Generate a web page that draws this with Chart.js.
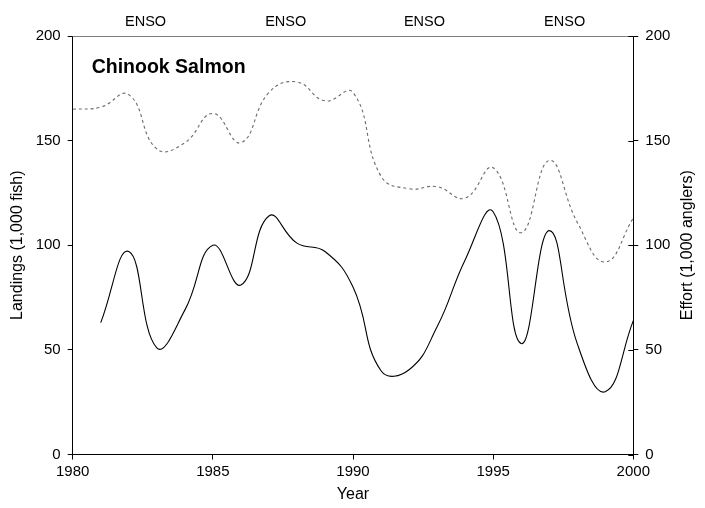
<!DOCTYPE html>
<html>
<head>
<meta charset="utf-8">
<script src="https://cdn.jsdelivr.net/npm/chart.js@4.4.1/dist/chart.umd.min.js"></script>
<style>
  html, body { margin: 0; padding: 0; background: #fff; }
  #wrap { width: 705px; height: 508px; }
</style>
</head>
<body>
<div id="wrap"><canvas id="c" width="705" height="508"></canvas></div>
<script>
const years     = [1980,1981,1982,1983,1984,1985,1986,1987,1988,1989,1990,1991,1992,1993,1994,1995,1996,1997,1998,1999,2000];
const landings  = [null,  63,  97,  51,  69, 100,  81, 114, 101,  97,  80,  40,40.5, 61,  93, 116,  53, 107,  53,  30,  64];
const effort    = [165, 166, 172, 146, 149, 163, 149, 173, 178, 169, 173, 133, 127, 128,122.5,137, 106,140.5,111,  92, 113];
const ensoYears = [1982.6, 1987.6, 1992.55, 1997.55];
const ensoLabel = 'ENSO';
const xTicks    = [1980, 1985, 1990, 1995, 2000];
const yTicks    = [0, 50, 100, 150, 200];
const panelTitle = 'Chinook Salmon';
const rightTitle = 'Effort (1,000 anglers)';

const FONT = "'Liberation Sans', Arial, sans-serif";

const decor = {
  id: 'decor',
  afterDraw(chart) {
    const ctx = chart.ctx;
    const a = chart.chartArea;
    const xs = chart.scales.x;
    const y2 = chart.scales.y2;
    ctx.save();
    // top border line
    ctx.strokeStyle = '#808080';
    ctx.lineWidth = 1;
    ctx.beginPath();
    ctx.moveTo(a.left, a.top + 0.5);
    ctx.lineTo(a.right, a.top + 0.5);
    ctx.stroke();
    // inner ticks of right axis
    ctx.strokeStyle = '#000';
    ctx.beginPath();
    yTicks.forEach(v => {
      const py = Math.round(y2.getPixelForValue(v)) + 0.5;
      ctx.moveTo(a.right - 5, py);
      ctx.lineTo(a.right, py);
    });
    ctx.stroke();
    // ENSO labels
    ctx.fillStyle = '#000';
    ctx.font = '14.5px ' + FONT;
    ctx.textAlign = 'center';
    ctx.textBaseline = 'middle';
    ensoYears.forEach(yr => {
      ctx.fillText(ensoLabel, xs.getPixelForValue(yr), a.top - 14);
    });
    // panel title
    ctx.font = 'bold 19.5px ' + FONT;
    ctx.textAlign = 'left';
    ctx.fillText(panelTitle, a.left + 19, a.top + 32);
    // right axis title, reading upward
    ctx.font = '16px ' + FONT;
    ctx.textAlign = 'center';
    ctx.translate(688, (a.top + a.bottom) / 2);
    ctx.rotate(-Math.PI / 2);
    ctx.fillText(rightTitle, 0, 0);
    ctx.restore();
  }
};

new Chart(document.getElementById('c'), {
  type: 'line',
  data: {
    datasets: [
      {
        label: 'Landings',
        data: years.map((yr, i) => ({x: yr, y: landings[i]})).filter(p => p.y !== null),
        borderColor: '#000',
        borderWidth: 1.1,
        pointRadius: 0,
        tension: 0.45,
        fill: false,
        yAxisID: 'y'
      },
      {
        label: 'Effort',
        data: years.map((yr, i) => ({x: yr, y: effort[i]})),
        borderColor: '#6a6a6a',
        borderWidth: 1.1,
        borderDash: [3, 3],
        pointRadius: 0,
        tension: 0.45,
        fill: false,
        yAxisID: 'y2'
      }
    ]
  },
  options: {
    responsive: false,
    animation: false,
    layout: { padding: { top: 36, left: 0, right: 0, bottom: 0 } },
    plugins: { legend: { display: false }, tooltip: { enabled: false } },
    scales: {
      x: {
        type: 'linear',
        min: 1980, max: 2000,
        afterBuildTicks: s => { s.ticks = xTicks.map(v => ({value: v})); },
        ticks: { color: '#000', font: { family: FONT, size: 15 }, padding: 3, maxRotation: 0, callback: v => String(v) },
        grid: { drawOnChartArea: false, color: '#000', tickLength: 5, tickColor: '#000' },
        border: { color: '#000', width: 1 },
        title: { display: true, text: 'Year', color: '#000', font: { family: FONT, size: 16 }, padding: { top: 0, bottom: 4 } },
        afterFit: s => { s.height = 53.5; }
      },
      y: {
        position: 'left',
        min: 0, max: 200,
        afterBuildTicks: s => { s.ticks = yTicks.map(v => ({value: v})); },
        ticks: { color: '#000', font: { family: FONT, size: 15 }, padding: 7 },
        grid: { drawOnChartArea: false, color: '#000', tickLength: 5, tickColor: '#000' },
        border: { color: '#000', width: 1 },
        title: { display: true, text: 'Landings (1,000 fish)', color: '#000', font: { family: FONT, size: 16 }, padding: { top: 8, bottom: 0 } },
        afterFit: s => { s.width = 72.7; }
      },
      y2: {
        position: 'right',
        min: 0, max: 200,
        afterBuildTicks: s => { s.ticks = yTicks.map(v => ({value: v})); },
        ticks: { color: '#000', font: { family: FONT, size: 15 }, padding: 7 },
        grid: { drawOnChartArea: false, color: '#000', tickLength: 5, tickColor: '#000' },
        border: { color: '#000', width: 1 },
        title: { display: false },
        afterFit: s => { s.width = 71.7; }
      }
    }
  },
  plugins: [decor]
});
</script>
</body>
</html>
